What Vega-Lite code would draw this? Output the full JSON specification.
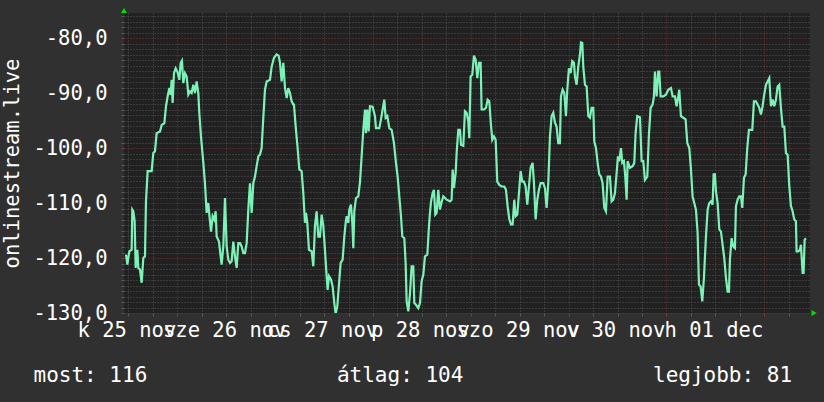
{
"$schema":"https://vega.github.io/schema/vega-lite/v6.json",
"width":686,"height":300,
"autosize":{"type":"none"},
"padding":{"left":124,"top":13,"right":14,"bottom":89},
"background":"#303030",
"config":{"view":{"fill":"#212121","stroke":null},"font":"DejaVu Sans Mono"},
"datasets":{
"series":[
{"h":11.42,"v":-119.4},{"h":11.75,"v":-121.2},{"h":12.24,"v":-118.8},{"h":12.81,"v":-118.5},{"h":12.97,"v":-111.2},{"h":13.22,"v":-111.5},{"h":13.54,"v":-113.3},{"h":13.79,"v":-121.8},{"h":14.2,"v":-118.5},{"h":14.44,"v":-121.8},{"h":14.85,"v":-122.1},{"h":15.26,"v":-124.5},{"h":15.67,"v":-120.0},{"h":16.08,"v":-119.7},{"h":16.32,"v":-109.7},{"h":16.73,"v":-104.2},{"h":17.71,"v":-104.2},{"h":18.12,"v":-100.9},{"h":18.53,"v":-100.6},{"h":18.94,"v":-97.3},{"h":19.76,"v":-97.0},{"h":20.17,"v":-95.8},{"h":20.82,"v":-95.5},{"h":21.23,"v":-92.4},{"h":21.64,"v":-90.6},{"h":22.05,"v":-89.1},{"h":22.37,"v":-90.3},{"h":22.62,"v":-87.6},{"h":22.86,"v":-91.8},{"h":23.19,"v":-86.4},{"h":23.6,"v":-85.5},{"h":24.01,"v":-86.1},{"h":24.5,"v":-87.6},{"h":24.83,"v":-84.5},{"h":25.15,"v":-84.1},{"h":25.48,"v":-88.2},{"h":25.89,"v":-86.4},{"h":26.3,"v":-87.0},{"h":26.71,"v":-90.3},{"h":27.12,"v":-89.7},{"h":27.52,"v":-90.0},{"h":27.93,"v":-88.5},{"h":28.34,"v":-90.0},{"h":28.75,"v":-87.9},{"h":29.16,"v":-90.0},{"h":29.4,"v":-93.6},{"h":29.81,"v":-97.9},{"h":30.39,"v":-102.7},{"h":30.79,"v":-106.4},{"h":31.2,"v":-111.8},{"h":31.61,"v":-110.0},{"h":31.86,"v":-112.1},{"h":32.27,"v":-115.2},{"h":32.68,"v":-112.4},{"h":33.08,"v":-113.0},{"h":33.41,"v":-111.5},{"h":33.66,"v":-116.1},{"h":34.23,"v":-117.0},{"h":34.64,"v":-119.7},{"h":34.88,"v":-121.2},{"h":35.29,"v":-117.9},{"h":35.7,"v":-109.1},{"h":36.11,"v":-117.9},{"h":36.52,"v":-120.3},{"h":36.93,"v":-120.9},{"h":37.33,"v":-120.6},{"h":37.74,"v":-117.0},{"h":38.15,"v":-119.7},{"h":38.56,"v":-121.8},{"h":38.97,"v":-117.3},{"h":39.38,"v":-117.3},{"h":39.79,"v":-117.9},{"h":40.2,"v":-119.1},{"h":40.61,"v":-119.1},{"h":41.02,"v":-117.3},{"h":41.42,"v":-111.2},{"h":41.83,"v":-106.4},{"h":42.24,"v":-111.8},{"h":42.65,"v":-106.4},{"h":43.06,"v":-105.2},{"h":43.47,"v":-103.3},{"h":43.88,"v":-101.5},{"h":44.29,"v":-101.2},{"h":44.69,"v":-100.0},{"h":45.1,"v":-94.5},{"h":45.51,"v":-89.4},{"h":45.92,"v":-87.9},{"h":46.74,"v":-87.6},{"h":47.15,"v":-85.2},{"h":47.72,"v":-83.6},{"h":48.37,"v":-83.0},{"h":48.86,"v":-83.2},{"h":49.19,"v":-84.5},{"h":49.6,"v":-87.9},{"h":50.01,"v":-84.5},{"h":50.42,"v":-89.1},{"h":50.83,"v":-90.9},{"h":51.23,"v":-89.1},{"h":51.64,"v":-90.0},{"h":52.05,"v":-91.5},{"h":52.46,"v":-92.1},
{"h":52.62,"v":-92.1},{"h":53.11,"v":-96.7},{"h":53.52,"v":-100.0},{"h":53.93,"v":-103.9},{"h":54.5,"v":-104.2},{"h":54.91,"v":-108.2},{"h":55.32,"v":-113.6},{"h":55.57,"v":-111.8},{"h":55.89,"v":-113.6},{"h":56.3,"v":-118.5},{"h":56.96,"v":-118.8},{"h":57.37,"v":-121.5},{"h":57.77,"v":-114.2},{"h":58.18,"v":-111.5},{"h":58.59,"v":-116.1},{"h":59.0,"v":-116.1},{"h":59.41,"v":-112.1},{"h":59.82,"v":-114.2},{"h":60.06,"v":-116.7},{"h":60.64,"v":-123.3},{"h":60.88,"v":-125.8},{"h":61.21,"v":-123.3},{"h":61.7,"v":-123.9},{"h":62.11,"v":-125.2},{"h":62.52,"v":-128.2},{"h":62.84,"v":-130.2},{"h":63.25,"v":-128.8},{"h":63.66,"v":-124.8},{"h":64.07,"v":-120.9},{"h":64.56,"v":-120.3},{"h":64.97,"v":-116.1},{"h":65.3,"v":-113.6},{"h":65.54,"v":-112.4},{"h":65.95,"v":-113.6},{"h":66.19,"v":-111.2},{"h":66.6,"v":-110.3},{"h":66.93,"v":-113.6},{"h":67.18,"v":-118.2},{"h":67.42,"v":-111.5},{"h":67.83,"v":-109.1},{"h":68.4,"v":-108.8},{"h":68.81,"v":-106.2},{"h":69.22,"v":-101.5},{"h":69.63,"v":-96.7},{"h":70.04,"v":-93.0},{"h":70.28,"v":-97.3},{"h":70.61,"v":-93.0},{"h":70.94,"v":-97.0},{"h":71.26,"v":-92.4},{"h":71.92,"v":-92.5},{"h":72.49,"v":-94.2},{"h":72.74,"v":-96.4},{"h":73.55,"v":-96.4},{"h":73.96,"v":-94.8},{"h":74.37,"v":-93.0},{"h":74.78,"v":-91.2},{"h":75.11,"v":-94.5},{"h":75.52,"v":-94.2},{"h":76.01,"v":-96.4},{"h":76.58,"v":-96.7},{"h":77.15,"v":-99.1},{"h":77.64,"v":-102.7},{"h":78.05,"v":-105.2},{"h":78.46,"v":-108.8},{"h":78.87,"v":-112.4},{"h":79.2,"v":-116.1},{"h":79.69,"v":-116.4},{"h":80.01,"v":-120.9},{"h":80.26,"v":-127.9},{"h":80.67,"v":-129.7},{"h":81.08,"v":-126.4},{"h":81.48,"v":-121.5},{"h":81.89,"v":-121.5},{"h":82.14,"v":-128.2},{"h":82.55,"v":-128.5},{"h":83.12,"v":-129.1},{"h":83.53,"v":-128.2},{"h":83.94,"v":-124.2},{"h":84.35,"v":-123.0},{"h":84.75,"v":-119.7},{"h":85.33,"v":-119.4},{"h":85.74,"v":-114.2},{"h":85.98,"v":-111.8},{"h":86.23,"v":-109.8},{"h":86.64,"v":-108.2},{"h":86.96,"v":-107.6},{"h":87.29,"v":-112.1},{"h":87.62,"v":-111.8},{"h":88.02,"v":-107.6},{"h":88.43,"v":-111.2},{"h":88.84,"v":-109.8},{"h":89.25,"v":-108.8},{"h":89.66,"v":-109.1},{"h":90.07,"v":-109.4},{"h":90.89,"v":-109.7},{"h":91.3,"v":-109.4},{"h":91.54,"v":-103.9},{"h":91.87,"v":-107.3},{"h":92.28,"v":-104.5},{"h":92.52,"v":-100.9},{"h":92.93,"v":-96.7},{"h":93.34,"v":-96.7},{"h":93.59,"v":-99.4},{"h":94.16,"v":-99.6},{"h":94.56,"v":-93.3},
{"h":94.97,"v":-93.6},{"h":95.38,"v":-95.1},{"h":95.63,"v":-98.2},{"h":95.95,"v":-87.0},{"h":96.36,"v":-86.7},{"h":96.77,"v":-83.2},{"h":97.18,"v":-83.9},{"h":97.59,"v":-87.3},{"h":98.0,"v":-84.5},{"h":98.41,"v":-84.5},{"h":98.65,"v":-93.0},{"h":99.22,"v":-93.0},{"h":99.72,"v":-92.7},{"h":100.12,"v":-91.2},{"h":100.53,"v":-91.5},{"h":100.94,"v":-95.8},{"h":101.27,"v":-98.5},{"h":101.68,"v":-97.9},{"h":102.09,"v":-98.5},{"h":102.49,"v":-106.1},{"h":102.99,"v":-106.7},{"h":103.56,"v":-107.0},{"h":104.21,"v":-107.0},{"h":104.62,"v":-107.6},{"h":105.03,"v":-110.6},{"h":105.44,"v":-112.9},{"h":105.85,"v":-113.9},{"h":106.26,"v":-113.9},{"h":106.66,"v":-109.4},{"h":106.99,"v":-112.4},{"h":107.4,"v":-112.1},{"h":107.81,"v":-108.2},{"h":108.22,"v":-104.2},{"h":108.63,"v":-106.1},{"h":109.04,"v":-106.1},{"h":109.44,"v":-107.0},{"h":109.85,"v":-110.3},{"h":110.26,"v":-107.0},{"h":110.67,"v":-103.6},{"h":111.16,"v":-102.7},{"h":111.49,"v":-106.4},{"h":111.9,"v":-113.0},{"h":112.31,"v":-109.4},{"h":112.71,"v":-107.6},{"h":113.12,"v":-106.4},{"h":113.78,"v":-106.4},{"h":114.19,"v":-107.3},{"h":114.59,"v":-110.9},{"h":115.0,"v":-106.4},{"h":115.41,"v":-97.9},{"h":115.82,"v":-94.2},{"h":116.23,"v":-93.6},{"h":116.64,"v":-95.4},{"h":117.04,"v":-96.1},{"h":117.45,"v":-99.1},{"h":117.86,"v":-99.1},{"h":118.11,"v":-90.6},{"h":118.52,"v":-89.4},{"h":118.93,"v":-90.0},{"h":119.34,"v":-94.2},{"h":119.66,"v":-89.4},{"h":120.07,"v":-85.5},{"h":120.48,"v":-86.4},{"h":120.89,"v":-84.2},{"h":121.3,"v":-84.5},{"h":121.54,"v":-87.0},{"h":121.95,"v":-88.5},{"h":122.36,"v":-85.2},{"h":122.77,"v":-83.0},{"h":123.02,"v":-80.8},{"h":123.34,"v":-80.9},{"h":123.59,"v":-85.2},{"h":124.0,"v":-88.5},{"h":124.41,"v":-88.8},{"h":124.82,"v":-94.2},{"h":125.22,"v":-94.5},{"h":125.63,"v":-92.7},{"h":126.04,"v":-92.7},{"h":126.29,"v":-98.8},{"h":126.7,"v":-100.0},{"h":127.11,"v":-102.7},{"h":127.51,"v":-104.8},{"h":127.92,"v":-105.2},{"h":128.33,"v":-106.4},{"h":128.74,"v":-110.9},{"h":129.15,"v":-111.5},{"h":129.56,"v":-105.2},{"h":130.13,"v":-105.2},{"h":130.54,"v":-109.7},{"h":130.95,"v":-109.4},{"h":131.36,"v":-108.2},{"h":131.77,"v":-104.5},{"h":132.09,"v":-101.5},{"h":132.42,"v":-102.4},{"h":132.83,"v":-100.0},{"h":133.16,"v":-102.7},{"h":133.56,"v":-102.4},{"h":133.89,"v":-105.2},{"h":134.22,"v":-109.4},{"h":134.46,"v":-102.4},{"h":135.03,"v":-103.6},
{"h":135.69,"v":-103.3},{"h":136.1,"v":-102.7},{"h":136.42,"v":-97.3},{"h":136.83,"v":-94.2},{"h":137.49,"v":-94.4},{"h":137.9,"v":-102.4},{"h":138.31,"v":-102.4},{"h":138.71,"v":-105.8},{"h":139.29,"v":-105.2},{"h":139.69,"v":-97.6},{"h":140.1,"v":-92.7},{"h":140.59,"v":-92.1},{"h":140.92,"v":-90.6},{"h":141.17,"v":-86.1},{"h":141.58,"v":-90.6},{"h":141.98,"v":-86.1},{"h":142.23,"v":-86.1},{"h":142.56,"v":-90.6},{"h":143.21,"v":-90.6},{"h":143.86,"v":-90.3},{"h":144.42,"v":-89.4},{"h":145.09,"v":-89.1},{"h":145.5,"v":-90.6},{"h":146.07,"v":-90.6},{"h":146.48,"v":-92.4},{"h":146.89,"v":-90.6},{"h":147.13,"v":-89.4},{"h":147.54,"v":-94.2},{"h":148.12,"v":-94.5},{"h":148.69,"v":-94.8},{"h":149.1,"v":-99.1},{"h":149.59,"v":-100.0},{"h":150.0,"v":-103.9},{"h":150.4,"v":-108.8},{"h":150.81,"v":-110.0},{"h":151.22,"v":-111.2},{"h":151.63,"v":-115.4},{"h":151.96,"v":-124.8},{"h":152.37,"v":-125.2},{"h":152.78,"v":-127.9},{"h":153.18,"v":-123.6},{"h":153.68,"v":-116.1},{"h":154.09,"v":-111.2},{"h":154.49,"v":-110.0},{"h":154.9,"v":-109.7},{"h":155.31,"v":-110.3},{"h":155.56,"v":-104.8},{"h":155.88,"v":-104.8},{"h":156.13,"v":-107.9},{"h":156.54,"v":-110.0},{"h":156.95,"v":-114.8},{"h":157.36,"v":-115.2},{"h":157.76,"v":-117.6},{"h":158.17,"v":-120.0},{"h":158.58,"v":-123.6},{"h":158.99,"v":-126.1},{"h":159.32,"v":-126.1},{"h":159.56,"v":-120.3},{"h":159.97,"v":-116.4},{"h":160.38,"v":-117.9},{"h":160.79,"v":-118.2},{"h":161.03,"v":-110.6},{"h":161.44,"v":-109.4},{"h":161.85,"v":-108.8},{"h":162.26,"v":-108.8},{"h":162.59,"v":-110.9},{"h":163.0,"v":-105.4},{"h":163.41,"v":-104.8},{"h":163.81,"v":-100.0},{"h":164.22,"v":-96.7},{"h":165.04,"v":-96.7},{"h":165.45,"v":-91.5},{"h":165.94,"v":-91.5},{"h":166.35,"v":-92.1},{"h":166.76,"v":-92.7},{"h":167.17,"v":-93.9},{"h":167.57,"v":-92.4},{"h":167.9,"v":-90.6},{"h":168.39,"v":-88.5},{"h":168.8,"v":-87.9},{"h":169.21,"v":-87.3},{"h":169.62,"v":-92.4},{"h":170.03,"v":-91.2},{"h":170.44,"v":-92.4},{"h":170.85,"v":-91.2},{"h":171.25,"v":-88.8},{"h":171.66,"v":-88.5},{"h":172.07,"v":-92.7},{"h":172.48,"v":-96.1},{"h":172.89,"v":-96.1},{"h":173.3,"v":-100.9},{"h":173.71,"v":-101.2},{"h":174.11,"v":-106.8},{"h":174.52,"v":-110.5},{"h":174.93,"v":-111.5},{"h":175.34,"v":-113.0},{"h":175.75,"v":-113.3},{"h":175.91,"v":-118.8},{"h":176.32,"v":-118.8},{"h":176.73,"v":-118.5},{"h":176.97,"v":-117.6},{"h":177.39,"v":-122.7},{"h":177.63,"v":-122.7},{"h":177.88,"v":-116.7},{"h":178.2,"v":-116.4}
],
"arrowUp":[{"h":10.93,"v":-75.0}],
"arrowRight":[{"h":180.2,"v":-130}]
},
"layer":[
{"data":{"name":"series"},
 "mark":{"type":"line","color":"#7df2b8","strokeWidth":2.2,"clip":true},
 "encoding":{
  "x":{"field":"h","type":"quantitative",
   "scale":{"domain":[10.93,179.2],"nice":false,"zero":false},
   "axis":{
    "values":[12,18,24,30,36,42,48,54,60,66,72,78,84,90,96,102,108,114,120,126,132,138,144,150,156,162,168,174],
    "tickCount":1000,
    "labelExpr":"(datum.value - 12) % 24 == 0 ? ['k 25 nov','sze 26 nov','cs 27 nov','p 28 nov','szo 29 nov','v 30 nov','h 01 dec'][(datum.value - 12) / 24] : ''",
    "labelOverlap":false,"labelBound":false,"labelFlush":false,"labelAngle":0,
    "labelFont":"DejaVu Sans Mono",
    "labelFontSize":{"condition":{"test":"(datum.value - 12) % 24 != 0","value":0},"value":20.5},
    "labelColor":"#ffffff","labelPadding":4,"labelOffset":-2,
    "grid":true,
    "gridColor":{"condition":{"test":"datum.value % 24 == 0","value":"#7a3434"},"value":"#555555"},
    "gridDash":[1,2],"gridWidth":1,
    "ticks":true,"tickSize":3,
    "tickColor":{"condition":{"test":"datum.value % 24 == 0","value":"#8a3a3a"},"value":"#5a5a5a"},
    "domain":false,
    "title":"most:\u00a0116\u00a0\u00a0\u00a0\u00a0\u00a0\u00a0\u00a0\u00a0\u00a0\u00a0\u00a0\u00a0\u00a0\u00a0\u00a0átlag:\u00a0104\u00a0\u00a0\u00a0\u00a0\u00a0\u00a0\u00a0\u00a0\u00a0\u00a0\u00a0\u00a0\u00a0\u00a0\u00a0legjobb:\u00a081",
    "titleFont":"DejaVu Sans Mono","titleFontSize":21,"titleColor":"#ffffff","titleFontWeight":"normal",
    "titleX":-91,"titleY":68,"titleAlign":"left","titleBaseline":"alphabetic"
   }},
  "y":{"field":"v","type":"quantitative",
   "scale":{"domain":[-130,-75.45],"nice":false,"zero":false},
   "axis":{
    "values":[-130,-129,-128,-127,-126,-125,-124,-123,-122,-121,-120,-119,-118,-117,-116,-115,-114,-113,-112,-111,-110,-109,-108,-107,-106,-105,-104,-103,-102,-101,-100,-99,-98,-97,-96,-95,-94,-93,-92,-91,-90,-89,-88,-87,-86,-85,-84,-83,-82,-81,-80,-79,-78,-77,-76],
    "tickCount":1000,
    "labelExpr":"datum.value % 10 == 0 ? replace('-' + format(abs(datum.value), '.1f'), '.', ',') : ''",
    "labelOverlap":false,"labelBound":false,"labelFlush":false,
    "labelFont":"DejaVu Sans Mono",
    "labelFontSize":{"condition":{"test":"datum.value % 10 != 0","value":0},"value":20.5},
    "labelColor":"#ffffff","labelPadding":14,
    "grid":true,
    "gridColor":{"condition":{"test":"datum.value % 10 == 0","value":"#7a3434"},"value":"#555555"},
    "gridDash":[1,2],"gridWidth":1,
    "ticks":true,"tickSize":3,
    "tickColor":{"condition":{"test":"datum.value % 10 == 0","value":"#8a3a3a"},"value":"#5a5a5a"},
    "domain":false,
    "title":"onlinestream.live",
    "titleFont":"DejaVu Sans Mono","titleFontSize":20.5,"titleColor":"#ffffff","titleFontWeight":"normal","titlePadding":10
   }}
 }},
{"data":{"name":"arrowUp"},
 "mark":{"type":"point","shape":"triangle-up","filled":true,"color":"#00dd00","size":36,"opacity":1},
 "encoding":{"x":{"field":"h","type":"quantitative"},"y":{"field":"v","type":"quantitative"}}},
{"data":{"name":"arrowRight"},
 "mark":{"type":"point","shape":"triangle-right","filled":true,"color":"#00dd00","size":36,"opacity":1},
 "encoding":{"x":{"field":"h","type":"quantitative"},"y":{"field":"v","type":"quantitative"}}}
]
}
